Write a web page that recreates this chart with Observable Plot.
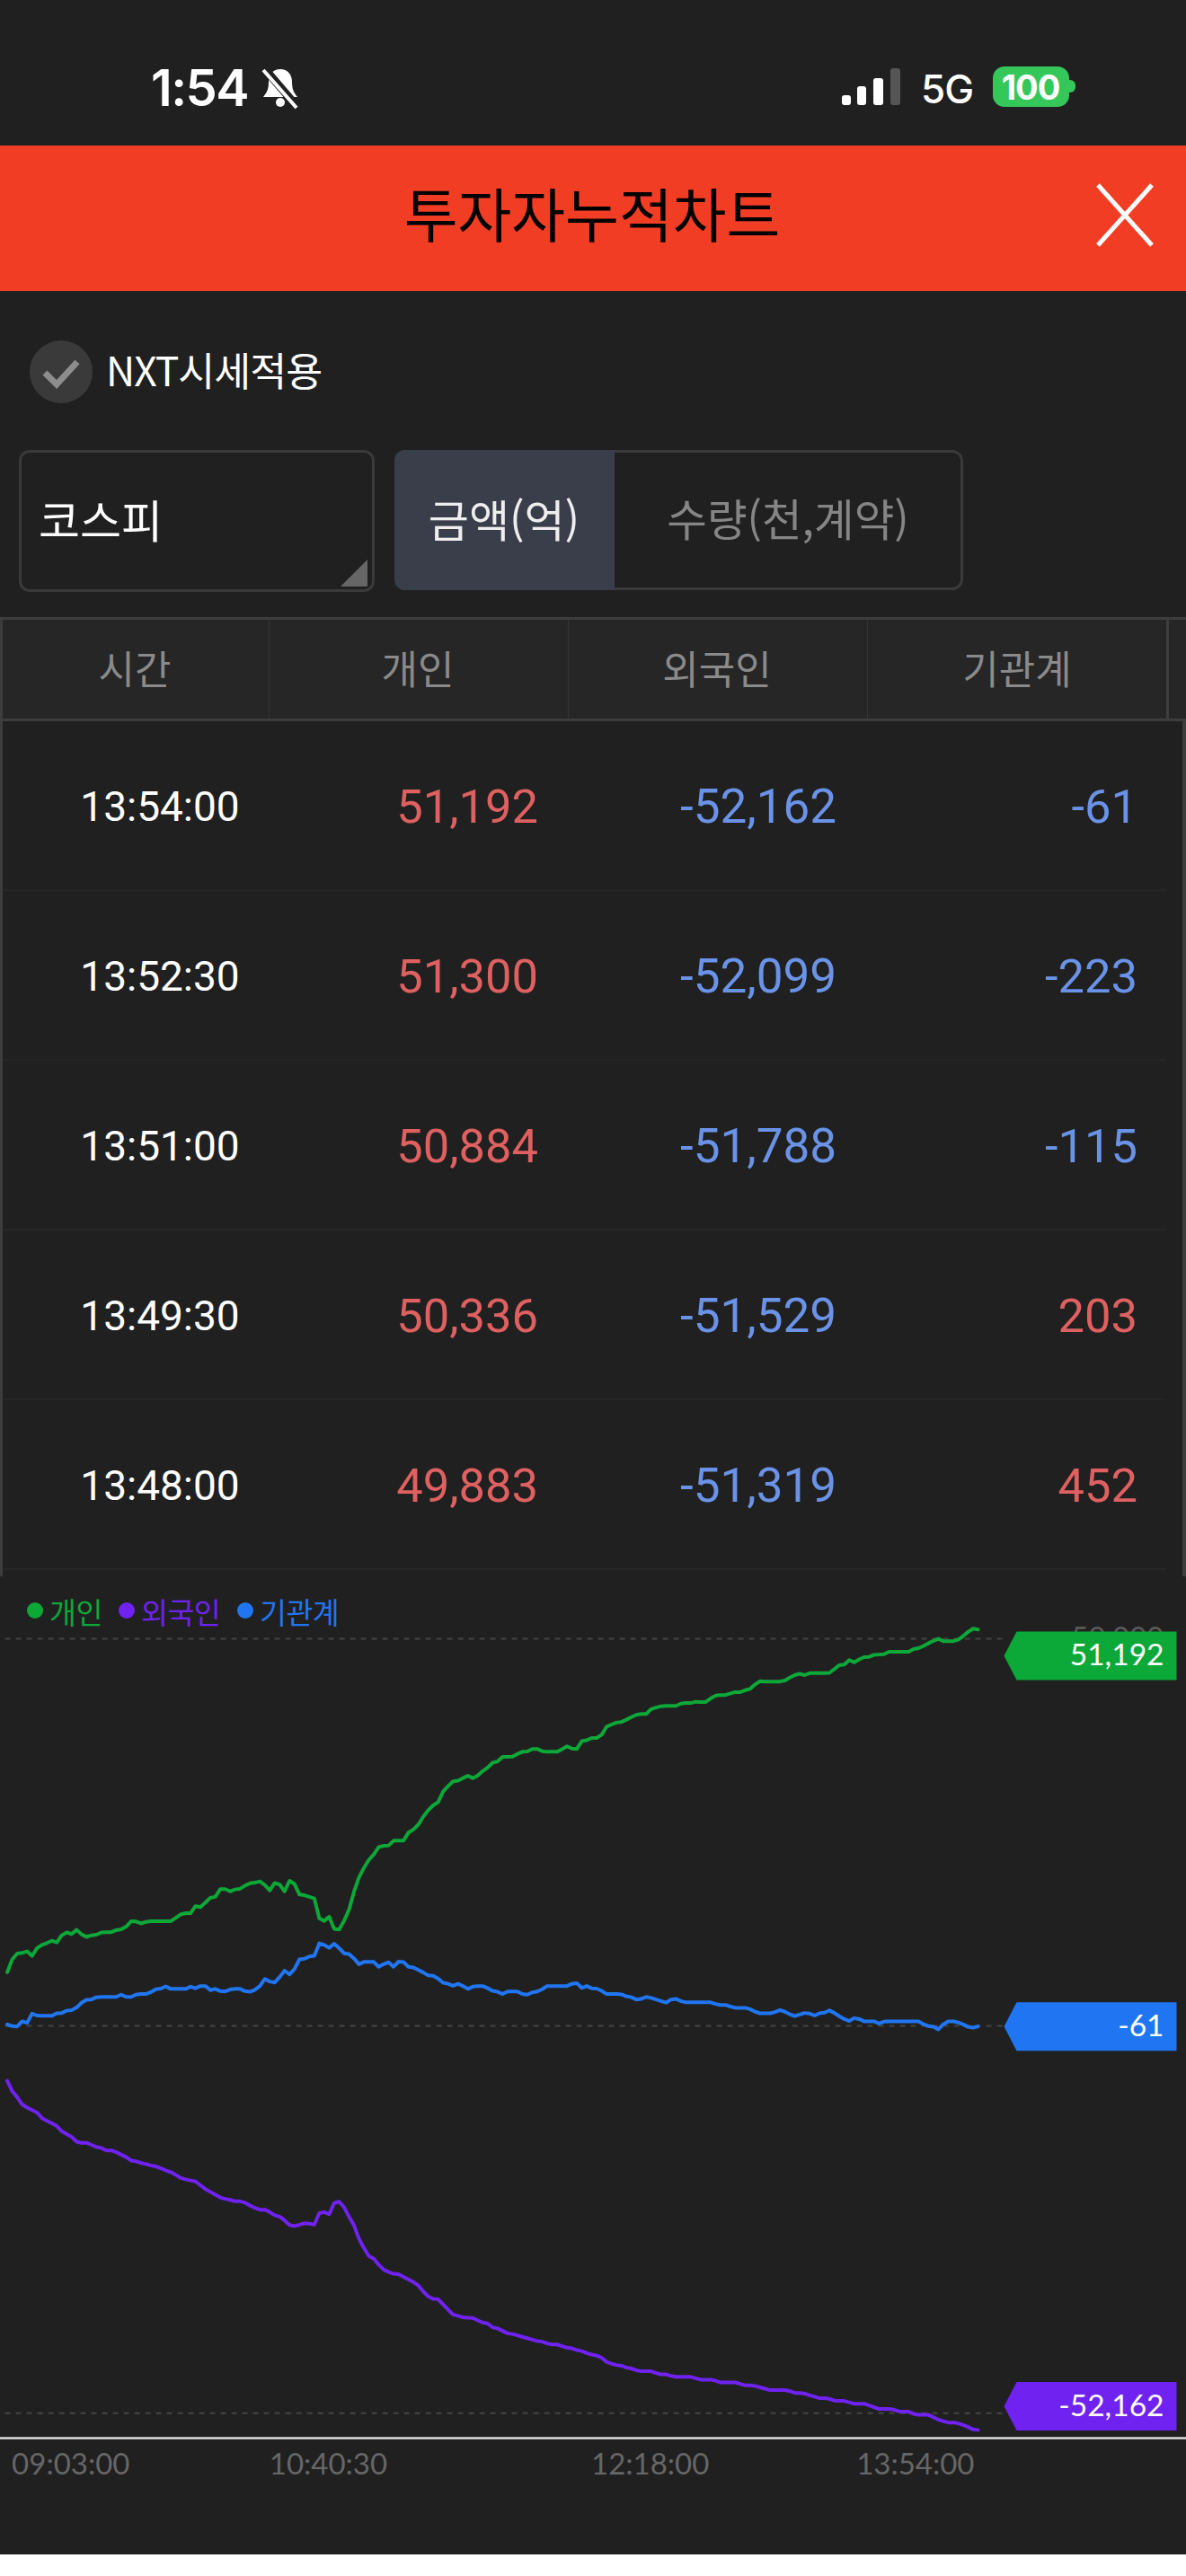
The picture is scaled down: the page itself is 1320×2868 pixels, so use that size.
<!DOCTYPE html>
<html lang="ko"><head><meta charset="utf-8">
<script src="https://cdn.jsdelivr.net/npm/d3@7"></script>
<script src="https://cdn.jsdelivr.net/npm/@observablehq/plot@0.6"></script>
<style>
html,body{margin:0;padding:0;background:#fff}
#page{position:relative;width:1320px;height:2844px;background:#202020;overflow:hidden;font-family:Roboto,"Noto Sans CJK KR",sans-serif;color:#fff}
#page .t{position:absolute;white-space:nowrap;line-height:1}
#page .b{position:absolute;box-sizing:border-box}
#chart{position:absolute;left:0;top:1750px}
#chart svg{display:block;background:transparent}
.kr{font-family:"Noto Sans CJK KR",sans-serif}
</style></head><body><div id="page"></div>
<script>
// ---- data ----
const investors = ["개인","외국인","기관계"];
const tableTimes = ["13:54:00","13:52:30","13:51:00","13:49:30","13:48:00"];
const tableIndividual = [51192,51300,50884,50336,49883];
const tableForeign = [-52162,-52099,-51788,-51529,-51319];
const tableInstitution = [-61,-223,-115,203,452];
const axisTimes = ["09:03:00","10:40:30","12:18:00","13:54:00"];
const guideValues = [50000,0,-50000];
const guideLabels = [50000];
// one reading every 90 seconds, from 09:00:00 to 13:54:00
const individual = [6940,8597,9343,9426,9633,9053,10047,10461,10710,11000,10793,11704,12077,11870,12409,11829,11497,11704,11787,12077,12118,12118,12367,12491,12823,13527,13486,13237,13444,13527,13527,13527,13527,13527,13941,14397,14562,14562,15473,15349,15929,16551,16675,17669,17669,17380,17628,17711,18125,18417,18500,18665,18209,17504,18458,18250,17380,18748,18333,16966,16883,16675,16468,13900,13568,14107,12533,12450,13568,15019,17298,19162,20404,21440,22144,23097,23263,23305,23926,23926,23926,24962,25376,25998,27033,27862,28484,28899,30266,30967,31591,31673,32005,32295,32005,32336,32916,33372,33993,34159,34739,34739,34781,35112,35402,35444,35775,35775,35485,35402,35402,35402,35734,36106,35816,35775,36769,36893,37183,37183,37598,38633,38923,39172,39255,39545,39876,40166,40291,40291,40912,41120,41285,41327,41327,41327,41617,41700,41700,41865,41824,41824,42280,42652,42735,42735,42943,43108,43108,43357,43523,44103,44517,44476,44476,44476,44476,44600,44973,45304,45470,45304,45553,45553,45553,45553,45594,46091,46588,46671,47251,46961,47334,47624,47665,47914,47956,47997,48328,48328,48328,48328,48328,48660,48784,49074,49406,49737,49985,49695,49695,49695,49883,50336,50884,51300,51192];
const foreign = [-7079,-8429,-9193,-10138,-10543,-10858,-11172,-11892,-12252,-12567,-12927,-13601,-13961,-14321,-14951,-15086,-15086,-15355,-15625,-15760,-16075,-16075,-16300,-16615,-16930,-17380,-17470,-17694,-17829,-18009,-18144,-18369,-18639,-18864,-19224,-19629,-19809,-19944,-20078,-20573,-21068,-21428,-21788,-22147,-22327,-22462,-22642,-22642,-22822,-23182,-23497,-23722,-23722,-24037,-24441,-24621,-25116,-25701,-25836,-25656,-25476,-25521,-25656,-24171,-24037,-24306,-22867,-22687,-23407,-24621,-25746,-27455,-28670,-29704,-30064,-30829,-31459,-31773,-31998,-32043,-32403,-32718,-33078,-33528,-34292,-34922,-35237,-35282,-35957,-36632,-37261,-37441,-37621,-37666,-37711,-38025,-38295,-38430,-38925,-39060,-39375,-39690,-39780,-39960,-40139,-40319,-40499,-40679,-40769,-40994,-41129,-41129,-41354,-41534,-41624,-41849,-41984,-42254,-42434,-42569,-42838,-43378,-43603,-43783,-43873,-44098,-44233,-44458,-44593,-44593,-44593,-44817,-44997,-44997,-45177,-45312,-45312,-45312,-45312,-45492,-45672,-45672,-45672,-45807,-46032,-46032,-46032,-46032,-46212,-46392,-46392,-46482,-46662,-46842,-47022,-47022,-47022,-47022,-47157,-47382,-47382,-47472,-47697,-47877,-48057,-48057,-48147,-48372,-48417,-48417,-48597,-48777,-48777,-48777,-49001,-49226,-49451,-49451,-49451,-49541,-49766,-49811,-49811,-50080,-50215,-50215,-50215,-50530,-50845,-51025,-51205,-51205,-51319,-51529,-51788,-52099,-52162];
const institution = [187,-20,-62,601,394,1596,1347,1306,1306,1306,1638,1680,1970,2052,2384,3004,3377,3418,3708,3750,3750,3750,3750,4040,3750,3750,4040,4123,4123,4372,4745,4828,5118,4786,4786,4786,4786,5076,4869,5157,5157,4620,4786,4496,4454,4703,4786,4786,4496,4413,4662,5157,6070,5739,5615,6318,7147,6650,7354,8597,8680,8970,9053,10669,10462,10089,10628,10047,9384,9301,8721,7976,8263,8263,8263,7642,7976,8222,7642,8305,8263,7642,7561,7229,6898,6525,6484,6111,5572,5447,5199,5447,5157,4786,5076,5157,5157,4869,4537,4413,4123,4454,4454,4454,4123,4040,4330,4454,4745,5157,5157,5157,5157,5157,5447,5530,4908,5157,4869,4828,4537,4123,4123,4123,4081,3832,3708,3418,3501,3750,3625,3418,3211,3004,3418,3501,3211,3045,3045,3045,3045,3045,3045,2838,2714,2714,2507,2341,2341,2341,2175,1843,1638,1638,1638,1802,2052,1843,1513,1264,1472,1680,1596,1347,1638,1721,2010,1680,1264,891,643,1016,891,601,601,601,311,560,601,601,601,601,601,601,601,228,-20,-104,-435,228,601,601,452,203,-115,-223,-61];
const colors = {개인:"#0ca838",외국인:"#7022f0",기관계:"#2076f2"};

// ---- page furniture ----
const page = document.getElementById("page");
function box(l,t,w,h,css=""){const e=document.createElement("div");e.className="b";e.style.cssText=`left:${l}px;top:${t}px;width:${w}px;height:${h}px;${css}`;page.append(e);return e}
function label(s,x,cy,size,color,anchor="start",cls="",css=""){const e=document.createElement("div");e.className="t "+cls;e.textContent=s;
 const pos=anchor==="middle"?`left:${x-300}px;width:600px;text-align:center`:anchor==="end"?`right:${1320-x}px`:`left:${x}px`;
 e.style.cssText=`${pos};top:${cy-size/2}px;font-size:${size}px;color:${color};${css}`;page.append(e);return e}
function svgBox(l,t,w,h,inner){const e=document.createElement("div");e.style.cssText=`position:absolute;left:${l}px;top:${t}px;width:${w}px;height:${h}px`;e.innerHTML=`<svg width="${w}" height="${h}" viewBox="0 0 ${w} ${h}" style="display:block">${inner}</svg>`;page.append(e)}

label("1:54",168,98,56,"#fff","start","","font-family:Inter;font-weight:600;letter-spacing:-1.5px");
svgBox(288,72,48,50,`<path d="M24 5c-8 0-13 6-13 14 0 10-3 13-6 17h38c-3-4-6-7-6-17 0-8-5-14-13-14z" fill="#fff"/><circle cx="24" cy="42" r="5" fill="#fff"/><path d="M6 4L42 46" stroke="#202020" stroke-width="9"/><path d="M5 6L42 48" stroke="#fff" stroke-width="4"/>`);
box(937,106,10,11,"background:#fff;border-radius:3px");
box(954,96,10,21,"background:#fff;border-radius:3px");
box(972,87,11,30,"background:#fff;border-radius:3px");
box(991,76,11,41,"background:#555;border-radius:3px");
label("5G",1025,99,44,"#fff","start","","font-family:Inter;font-weight:500;letter-spacing:-1px");
box(1105,74,85,45,"background:#35c759;border-radius:13px");
box(1190,89,7,14,"background:#35c759;border-radius:0 6px 6px 0");
label("100",1147,97,38,"#fff","middle","","font-family:Inter;font-weight:700;letter-spacing:-1px");

box(0,162,1320,162,"background:#f23d25");
label("투자자누적차트",659,236,65,"#000","middle","kr");
svgBox(1219,203,66,73,`<path d="M3 3L63 70M63 3L3 70" stroke="#fff" stroke-width="5"/>`);

box(33,379,70,70,"background:#3a3a3a;border-radius:50%");
svgBox(33,379,70,70,`<path d="M17 36L30 49L53 24" fill="none" stroke="#8d8d8d" stroke-width="7"/>`);
label("NXT시세적용",118,411,44.5,"#fff","start","kr","letter-spacing:-1px");

box(21,501,396,158,"border:3px solid #3a3a3a;border-radius:12px");
svgBox(378,622,33,33,`<path d="M31 1V31H1z" fill="#666"/>`);
label("코스피",43,577,50,"#fff","start","kr");
box(439,501,633,156,"border:3px solid #3a3a3a;border-radius:12px");
box(439,501,245,156,"background:#3a3e4a;border-radius:12px 0 0 12px");
label("금액(억)",561,576,49,"#eee","middle","kr");
label("수량(천,계약)",877,576,48.5,"#858585","middle","kr");

// table header
box(0,687,1320,116,"background:#262626;border-top:3px solid #3d3d3d;border-bottom:3px solid #3d3d3d");
[299,632,965].forEach(x=>box(x,690,1,110,"background:#343434"));
box(0,687,3,1068,"background:#3d3d3d");
box(1298,687,3,116,"background:#3d3d3d");
box(1316,803,4,952,"background:#3d3d3d");
["시간",...investors].forEach((s,i)=>label(s,[150,465,798,1132][i],743,44,"#8a8a8a","middle","kr"));
// table rows
const cellColor=v=>v<0?"#6a93e8":"#df6060",fmt=d3.format(",");
const plain=v=>fmt(v).replace("−","-");
tableTimes.forEach((t,i)=>{
  const cy=898+i*189;
  label(t,178,cy,46,"#fff","middle");
  label(plain(tableIndividual[i]),599,cy,52.5,cellColor(tableIndividual[i]),"end");
  label(plain(tableForeign[i]),931,cy,53,cellColor(tableForeign[i]),"end");
  label(plain(tableInstitution[i]),1266,cy,52.5,cellColor(tableInstitution[i]),"end");
  box(3,990+i*189,1295,2,"background:#262626");
});

// legend
const legendX=[39,141,273];
investors.forEach((s,i)=>{
  box(legendX[i]-9,1784,18,18,`background:${colors[s]};border-radius:50%`);
  label(s,legendX[i]+16,1794,32.5,colors[s],"start","kr","letter-spacing:-.5px");
});

// ---- chart ----
const asSeries=(name,values)=>values.map((v,i)=>({name,minute:i*1.5,value:v}));
const lines=[...asSeries("개인",individual),...asSeries("외국인",foreign),...asSeries("기관계",institution)];
const latest=[{name:"개인",value:individual.at(-1)},{name:"기관계",value:institution.at(-1)},{name:"외국인",value:foreign.at(-1)}];
const tagClampHigh=47800,tagClampLow=-49100;
const minuteOf=s=>{const [h,m,x]=s.split(":").map(Number);return (h-9)*60+m+x/60};
const axisTick=new Map(axisTimes.map(s=>[minuteOf(s),s]));
const tagShape={draw(c){c.moveTo(29,0);c.lineTo(43,-27);c.lineTo(221,-27);c.lineTo(221,27);c.lineTo(43,27);c.closePath()}};
const font="Lato";
const xaxis=(ticks,o)=>Plot.axisX(ticks.map(minuteOf),{tickSize:0,tickPadding:17,fontSize:33,fill:"#666",fontFamily:font,tickFormat:d=>axisTick.get(d),label:null,...o});
const chart=Plot.plot({
  width:1320,height:1093,
  marginLeft:7.6,marginRight:232,marginTop:74,marginBottom:129,
  style:{background:"transparent",overflow:"visible"},
  x:{domain:[0,294]},
  y:{domain:[-53220,50000],axis:null},
  color:{domain:Object.keys(colors),range:Object.values(colors)},
  marks:[
    Plot.ruleY(guideValues,{stroke:"#444",strokeWidth:2,strokeDasharray:"6 6",insetLeft:-2,insetRight:-28}),
    Plot.ruleY([-53220],{stroke:"#dedede",strokeWidth:2.4,insetLeft:-8,insetRight:-232}),
    Plot.text(guideLabels,{y:d=>d,text:plain,frameAnchor:"right",dx:207,textAnchor:"end",fontSize:33,fontFamily:font,fill:"#5a5a5a"}),
    Plot.line(lines,{x:"minute",y:"value",z:"name",stroke:"name",strokeWidth:4,strokeLinejoin:"round"}),
    Plot.dot(latest,{y:d=>Math.min(tagClampHigh,Math.max(tagClampLow,d.value)),frameAnchor:"right",fill:"name",symbol:tagShape,r:10}),
    Plot.text(latest,{y:d=>Math.min(tagClampHigh,Math.max(tagClampLow,d.value)),text:d=>plain(d.value),frameAnchor:"right",dx:207,textAnchor:"end",fontSize:33.5,fontFamily:font,fill:"#fff"}),
    xaxis(axisTimes.slice(0,1),{textAnchor:"start",dx:-6}),
    xaxis(axisTimes.slice(1,3),{dx:-12}),
    xaxis(axisTimes.slice(3),{textAnchor:"end",dx:-4})
  ]
});
const holder=document.createElement("div");holder.id="chart";holder.append(chart);page.append(holder);
</script></body></html>
